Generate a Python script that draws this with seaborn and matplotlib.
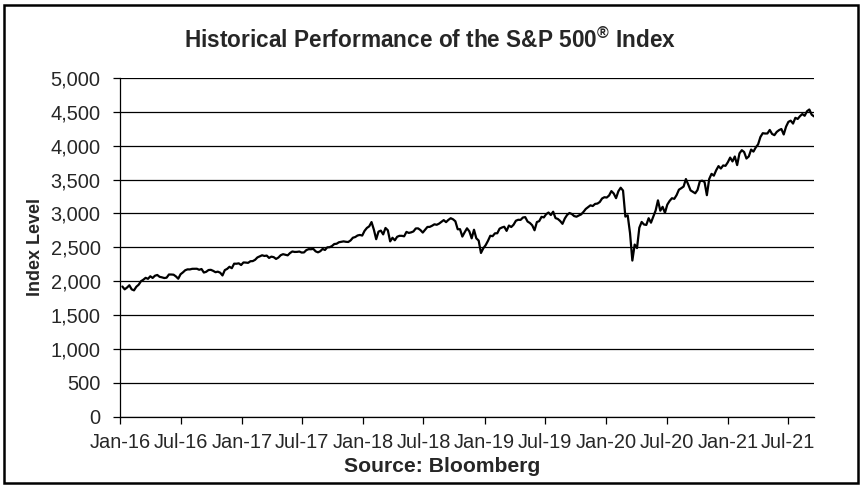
import matplotlib
matplotlib.use('Agg')
import matplotlib.pyplot as plt
import matplotlib.dates as mdates
from matplotlib.patches import Rectangle
from matplotlib.ticker import FuncFormatter, MultipleLocator
import pandas as pd
import seaborn as sns

# weekly closes (Fridays)
valores_2016 = [1922, 1880, 1906, 1940, 1880, 1865, 1918, 1948, 2000, 2022, 2050, 2035,
                2073, 2048, 2081, 2092, 2065, 2057, 2047, 2052, 2099, 2099, 2096, 2071,
                2037, 2103, 2130, 2162, 2175, 2174, 2183, 2184, 2184, 2169, 2180, 2128,
                2139, 2165, 2168, 2153, 2133, 2141, 2126, 2085, 2164, 2182, 2213, 2192,
                2259, 2258, 2264, 2239]
valores_2017 = [2277, 2275, 2271, 2295, 2297, 2316, 2351, 2367, 2383, 2373, 2378, 2344,
                2363, 2355, 2329, 2349, 2384, 2399, 2391, 2382, 2416, 2439, 2432, 2433,
                2438, 2423, 2425, 2459, 2473, 2472, 2477, 2441, 2426, 2443, 2477, 2461,
                2500, 2502, 2519, 2549, 2553, 2575, 2581, 2588, 2582, 2579, 2602, 2642,
                2652, 2675, 2683, 2674]
valores_2018 = [2743, 2786, 2810, 2873, 2762, 2620, 2732, 2747, 2691, 2786, 2752, 2588,
                2641, 2604, 2656, 2670, 2670, 2663, 2728, 2713, 2721, 2735, 2779, 2780,
                2755, 2718, 2760, 2801, 2802, 2819, 2840, 2833, 2850, 2875, 2902, 2872,
                2905, 2930, 2914, 2885, 2767, 2768, 2659, 2723, 2781, 2736, 2633, 2760,
                2633, 2600, 2417, 2486]
valores_2019 = [2532, 2596, 2671, 2665, 2707, 2708, 2776, 2793, 2804, 2743, 2822, 2800,
                2834, 2893, 2907, 2905, 2940, 2946, 2881, 2860, 2826, 2752, 2873, 2887,
                2950, 2942, 2990, 3014, 2977, 3026, 2932, 2919, 2889, 2847, 2926, 2979,
                3007, 2992, 2962, 2952, 2970, 2986, 3023, 3067, 3093, 3120, 3110, 3141,
                3146, 3169, 3221, 3240]
valores_2020 = [3235, 3265, 3330, 3295, 3226, 3328, 3380, 3338, 2954, 2972, 2711, 2305,
                2541, 2489, 2790, 2875, 2837, 2831, 2930, 2864, 2955, 3044, 3194, 3041,
                3098, 3009, 3130, 3185, 3225, 3216, 3271, 3351, 3373, 3397, 3508, 3427,
                3341, 3319, 3298, 3348, 3477, 3484, 3465, 3270, 3509, 3585, 3558, 3638,
                3699, 3663, 3709, 3703, 3756]
valores_2021 = [3825, 3768, 3841, 3714, 3887, 3934, 3907, 3811, 3842, 3943, 3913, 3975,
                4020, 4129, 4185, 4180, 4181, 4233, 4174, 4156, 4204, 4230, 4247, 4166,
                4281, 4352, 4370, 4327, 4412, 4395, 4437, 4468, 4442, 4509, 4535, 4459,
                4433]

indice = valores_2016 + valores_2017 + valores_2018 + valores_2019 + valores_2020 + valores_2021
datas = pd.date_range('2016-01-08', periods=len(indice), freq='W-FRI')
base = pd.DataFrame({'Data': datas, 'Indice': indice})

titulo = 'Historical Performance of the S&P 500$^{\\mathregular{\u00ae}}$ Index'
y_label = 'Index Level'
fonte = 'Source: Bloomberg'

sns.set_style('white')
plt.rcParams['font.family'] = ['Liberation Sans', 'DejaVu Sans']

fig = plt.figure(figsize=(8.61, 4.88), dpi=100)
ax = fig.add_axes([0.1394, 0.1461, 0.8060, 0.6941])

sns.lineplot(data=base, x='Data', y='Indice', color='black', linewidth=1.6, ax=ax)

ax.set_xlim(pd.Timestamp('2016-01-01'), datas[-1])
ax.set_ylim(0, 5000)
ax.yaxis.set_major_locator(MultipleLocator(500))
ax.yaxis.set_major_formatter(FuncFormatter(lambda v, p: f'{int(v):,}'))
ax.xaxis.set_major_locator(mdates.MonthLocator(bymonth=[1, 7]))
ax.xaxis.set_major_formatter(mdates.DateFormatter('%b-%y'))

ax.grid(axis='y', color='black', linewidth=0.9)
ax.set_axisbelow(True)
for lado in ['top', 'right']:
    ax.spines[lado].set_visible(False)
for lado in ['left', 'bottom']:
    ax.spines[lado].set_color('black')
    ax.spines[lado].set_linewidth(0.9)

ax.tick_params(axis='both', which='major', direction='out', length=5, width=0.9,
               color='black', labelsize=14.4, bottom=True, left=True)
ax.tick_params(axis='y', pad=9)
ax.tick_params(axis='x', pad=7)

ax.set_xlabel('')
ax.set_ylabel(y_label, fontsize=13, fontweight='bold')
ax.yaxis.set_label_coords(-0.110, 0.5)

fig.text(0.5, 0.918, titulo, ha='center', va='center', fontsize=16.3, fontweight='bold')
fig.text(0.513, 0.045, fonte, ha='center', va='center', fontsize=15.2, fontweight='bold')

fig.patches.append(Rectangle((0.005, 0.01), 0.991, 0.98, transform=fig.transFigure,
                             fill=False, edgecolor='black', linewidth=1.8))

fig.savefig('out.png', dpi=100)
